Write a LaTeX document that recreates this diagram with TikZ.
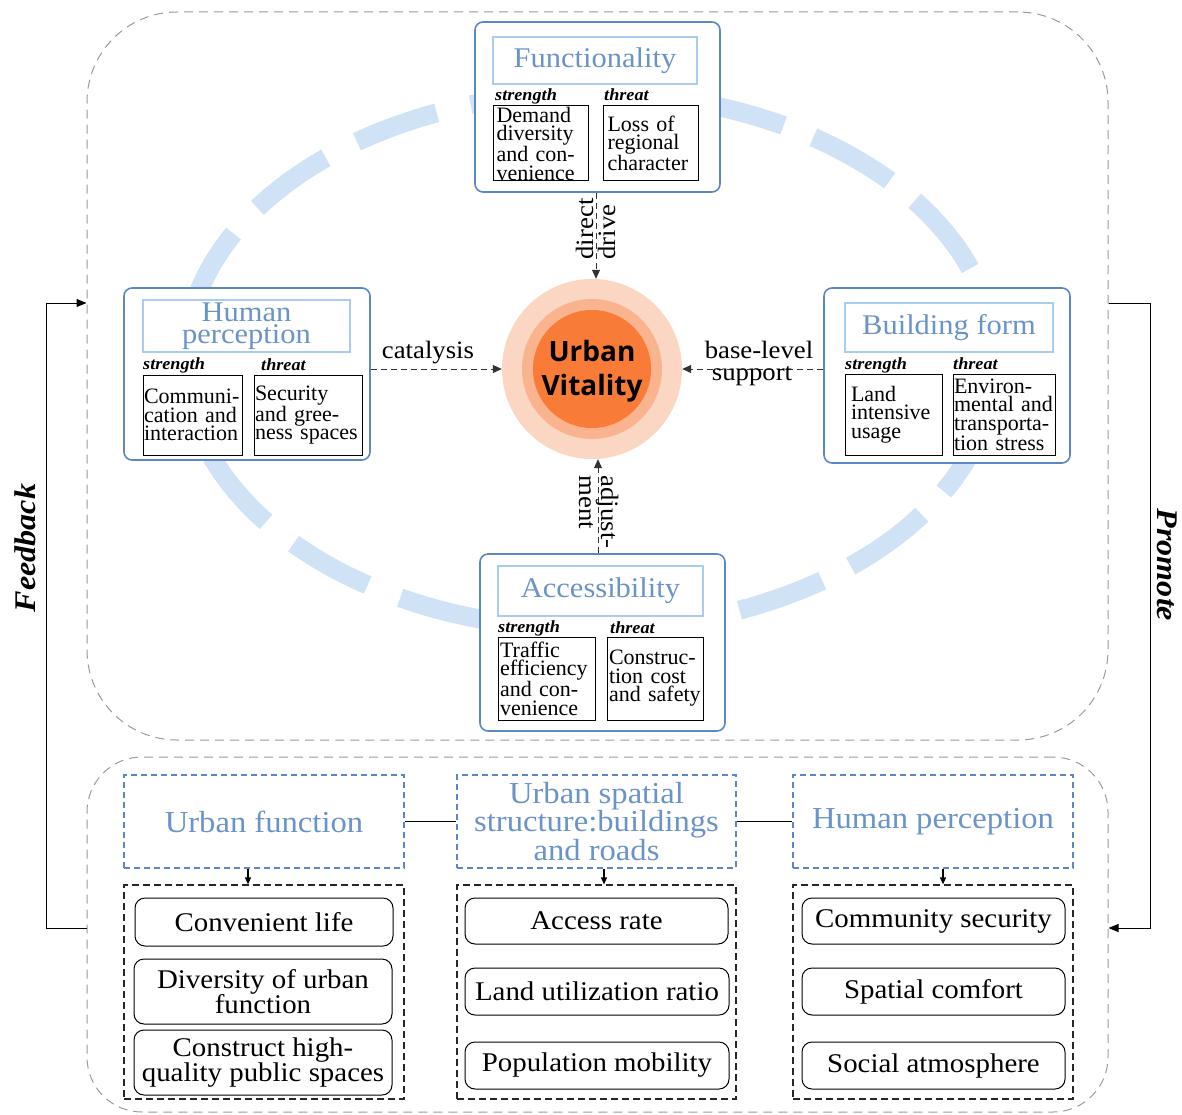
\documentclass[tikz,border=0pt]{standalone}
\usepackage{fontspec}
\setmainfont{Liberation Serif}
\newfontfamily\wide[FakeStretch=1.07]{Liberation Serif}
\newfontfamily\uvfont{Open Sans}
\usetikzlibrary{arrows.meta}
\definecolor{boxblue}{HTML}{5B88C4}
\definecolor{titleblue}{HTML}{A9CDF0}
\definecolor{txtblue}{HTML}{6A93C8}
\definecolor{ellblue}{HTML}{CFE2F6}
\definecolor{ringA}{HTML}{FBD6C2}
\definecolor{ringB}{HTML}{F9B48F}
\definecolor{ringC}{HTML}{F87B38}
\definecolor{framegray}{HTML}{9A9A9A}
\tikzset{
 outerbox/.style={draw=boxblue, line width=1.6pt, rounded corners=8pt, fill=white, inner sep=0pt},
 titlebox/.style={draw=titleblue, line width=1.4pt, text=txtblue, font=\wide\fontsize{28.5}{22.5}\selectfont, align=center, inner sep=0pt},
 subbox/.style={draw=black, line width=1pt, inner sep=0pt, font=\fontsize{22}{18.5}\selectfont, align=left},
 tag/.style={font=\wide\fontsize{17}{17}\selectfont\bfseries\itshape, inner sep=0pt, anchor=base west},
 flow/.style={draw=black!80, line width=1pt, dash pattern=on 6pt off 4pt, -{Triangle[length=9pt,width=8pt]}},
 lbl/.style={font=\wide\fontsize{25}{22}\selectfont, inner sep=0pt, align=left},
 head/.style={draw=boxblue, line width=1.3pt, dash pattern=on 6pt off 4pt, text=txtblue, font=\wide\fontsize{30.5}{25}\selectfont, align=center, inner sep=0pt},
 group/.style={draw=black!85, line width=1.2pt, dash pattern=on 7pt off 4pt, inner sep=0pt},
 item/.style={draw=black, line width=1pt, rounded corners=10pt, font=\wide\fontsize{27}{25}\selectfont, align=center, inner sep=0pt},
 frame/.style={draw=framegray, line width=1pt, dash pattern=on 9pt off 6pt, inner sep=0pt},
 loop/.style={draw=black, line width=1pt, -{Triangle[length=10pt,width=8pt]}},
 smallarr/.style={draw=black, line width=1.2pt, -{Triangle[length=7pt,width=6pt]}},
 side/.style={font=\wide\fontsize{30}{30}\selectfont\bfseries\itshape, inner sep=0pt},
 ring/.style={ellblue, line width=19pt},
}
\begin{document}
\begin{tikzpicture}[x=1pt,y=-1pt]
\useasboundingbox (0,0) rectangle (1182,1115);
% frames
\node[frame, rounded corners=90pt, minimum width=1021pt, minimum height=728pt] (top) at (597.5,376) {};
\node[frame, rounded corners=55pt, minimum width=1021pt, minimum height=355pt] (bot) at (597.5,934.5) {};
% dashed ellipse, drawn as two halves
\draw[ring, dash pattern=on 88pt off 32pt, dash phase=89pt] (590,629) arc[start angle=-90, end angle=90, x radius=405pt, y radius=268pt];
\draw[ring, dash pattern=on 85pt off 35pt, dash phase=85pt] (590,93) arc[start angle=90, end angle=270, x radius=405pt, y radius=268pt];

% Functionality
\node[outerbox, minimum width=245pt, minimum height=170pt] (fun) at (597.5,107) {};
\node[titlebox, minimum width=204pt, minimum height=47pt] (funT) at (595,60.5) {Functionality};
\node[tag] at (495,101) {strength};
\node[tag] at (604,101) {threat};
\node[subbox, minimum width=95pt, minimum height=75pt, text width=88pt] (funS) at (540.5,143.5) {Demand\\diversity\\and con-\\venience};
\node[subbox, minimum width=95pt, minimum height=75pt, text width=86pt] (funR) at (650.5,143.5) {Loss of\\regional\\character};

% Human perception
\node[outerbox, minimum width=246pt, minimum height=172pt] (hum) at (247,374) {};
\node[titlebox, minimum width=207pt, minimum height=52pt] (humT) at (246.5,326) {Human\\perception};
\node[tag] at (143,369) {strength};
\node[tag] at (261,370) {threat};
\node[subbox, minimum width=99pt, minimum height=80pt, text width=97pt] (humS) at (192.5,415) {Communi-\\cation and\\interaction};
\node[subbox, minimum width=108pt, minimum height=80pt, text width=106pt] (humR) at (308,415) {Security\\and gree-\\ness spaces};

% Building form
\node[outerbox, minimum width=246pt, minimum height=175pt] (bld) at (947,375.5) {};
\node[titlebox, minimum width=208pt, minimum height=49pt] (bldT) at (949,327.5) {Building form};
\node[tag] at (845,369) {strength};
\node[tag] at (953,369) {threat};
\node[subbox, minimum width=97pt, minimum height=81pt, text width=85pt] (bldS) at (893.5,414.5) {Land\\intensive\\usage};
\node[subbox, minimum width=102pt, minimum height=81pt, text width=100pt] (bldR) at (1004,414.5) {Environ-\\mental and\\transporta-\\tion stress};

% Accessibility
\node[outerbox, minimum width=245pt, minimum height=177pt] (acc) at (602.5,642.5) {};
\node[titlebox, minimum width=205pt, minimum height=50pt] (accT) at (600.5,591) {Accessibility};
\node[tag] at (498,632) {strength};
\node[tag] at (610,633) {threat};
\node[subbox, minimum width=97pt, minimum height=83pt, text width=93pt] (accS) at (546.5,678.5) {Traffic\\efficiency\\and con-\\venience};
\node[subbox, minimum width=96pt, minimum height=83pt, text width=92pt] (accR) at (655,678.5) {Construc-\\tion cost\\and safety};

% Urban vitality
\node[circle, fill=ringA, minimum size=180pt, inner sep=0pt] (uv) at (592,369) {};
\node[circle, fill=ringB, minimum size=140pt, inner sep=0pt] (uvB) at (592,369) {};
\node[circle, fill=ringC, minimum size=118pt, inner sep=0pt] (uvC) at (592,369) {};
\node[font=\uvfont\bfseries\fontsize{28}{34}\selectfont, align=center, inner sep=0pt] (uvT) at (592,371) {Urban\\Vitality};

% connectors
\draw[flow] (fun.south -| 596,0) -- (uv.north -| 596,0);
\node[lbl, rotate=90] at (596,229) {direct\\drive};
\draw[flow] (acc.north -| 598,0) -- (uv.south -| 598,0);
\node[lbl, rotate=-90] at (599,512) {adjust-\\ment};
\draw[flow] (hum.east |- uv.west) -- (uv.west);
\node[lbl] (catl) at (428,353) {catalysis};
\draw[flow] (bld.west |- uv.east) -- (uv.east);
\node[lbl] (bll) at (759,350) {base-level};
\node[lbl] (spl) at (752,376) {support};

% bottom headers
\node[head, minimum width=280pt, minimum height=93pt] (uf) at (264,821.5) {Urban function};
\node[head, minimum width=279pt, minimum height=93pt] (us) at (596.5,821.5) {Urban spatial\\structure:buildings\\and roads};
\node[head, minimum width=280pt, minimum height=93pt] (hp) at (933,821.5) {Human perception};
\draw[line width=1.3pt] (uf.east) -- (us.west);
\draw[line width=1.3pt] (us.east) -- (hp.west);

\node[group, minimum width=280pt, minimum height=214pt] (g1) at (264,992) {};
\node[group, minimum width=279pt, minimum height=214pt] (g2) at (596.5,992) {};
\node[group, minimum width=280pt, minimum height=214pt] (g3) at (933,992) {};
\draw[smallarr] ([xshift=-16pt]uf.south) -- ([xshift=-16pt]g1.north);
\draw[smallarr] ([xshift=7.5pt]us.south) -- ([xshift=7.5pt]g2.north);
\draw[smallarr] ([xshift=10pt]hp.south) -- ([xshift=10pt]g3.north);

\node[item, minimum width=258pt, minimum height=48pt] (l1) at (264,922) {Convenient life};
\node[item, minimum width=258pt, minimum height=65pt] (l2) at (263,991.5) {Diversity of urban\\function};
\node[item, minimum width=258pt, minimum height=65pt] (l3) at (263,1062.5) {Construct high-\\quality public spaces};
\node[item, minimum width=263pt, minimum height=46pt] (m1) at (596.5,921) {Access rate};
\node[item, minimum width=264pt, minimum height=47pt] (m2) at (597,991.5) {Land utilization ratio};
\node[item, minimum width=264pt, minimum height=47pt] (m3) at (597,1065.5) {Population mobility};
\node[item, minimum width=263pt, minimum height=46pt] (r1) at (933.5,921) {Community security};
\node[item, minimum width=263pt, minimum height=47pt] (r2) at (933.5,991.5) {Spatial comfort};
\node[item, minimum width=263pt, minimum height=47pt] (r3) at (933.5,1065.5) {Social atmosphere};

% feedback / promote
\coordinate (fbA) at (46,928);
\coordinate (fbB) at (46,303);
\draw[loop] (fbA -| bot.west) -- (fbA) -- (fbB) -- (fbB -| top.west);
\node[side, rotate=90] at (25,548) {Feedback};
\coordinate (prA) at (1150,303);
\coordinate (prB) at (1150,928);
\draw[loop] (prA -| top.east) -- (prA) -- (prB) -- (prB -| bot.east);
\node[side, rotate=-90] at (1167,565) {Promote};
\end{tikzpicture}
\end{document}
